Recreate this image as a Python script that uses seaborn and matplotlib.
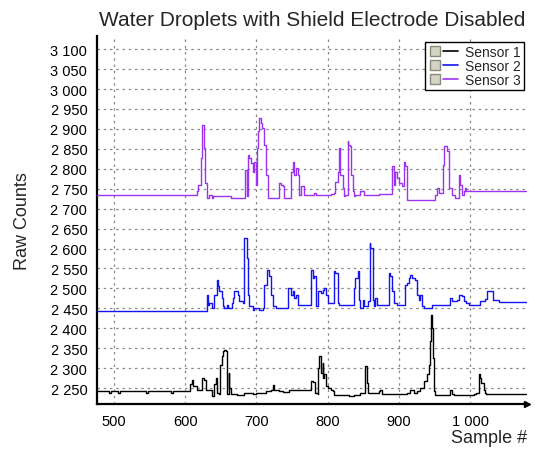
import numpy as np
import pandas as pd
import matplotlib
matplotlib.use("Agg")
import matplotlib.pyplot as plt
from matplotlib.lines import Line2D
from matplotlib.legend_handler import HandlerTuple
from matplotlib.ticker import MultipleLocator, FuncFormatter
import seaborn as sns

# ---------------- data (breakpoints) ----------------
s1_x = [476, 492, 493, 496, 504, 505, 508, 544, 545, 548, 579, 580, 583, 602, 607, 609, 611, 616, 623, 624,
        626, 629, 637, 640, 641, 643, 645, 648, 649, 651, 653, 655, 657, 658, 659, 661, 662, 664, 672, 683,
        695, 700, 714, 721, 723, 725, 732, 737, 746, 756, 774, 777, 780, 782, 786, 787, 788, 790, 791, 793,
        794, 795, 797, 800, 804, 807, 809, 823, 830, 837, 846, 851, 853, 855, 856, 860, 872, 874, 877, 898,
        912, 916, 921, 926, 930, 935, 940, 942, 944, 945, 947, 948, 949, 951, 970, 972, 974, 977, 995, 1005,
        1009, 1012, 1014, 1016, 1019, 1021, 1023, 1078]
s1_y = [2242, 2242, 2238, 2242, 2242, 2238, 2242, 2242, 2238, 2242, 2242, 2238, 2242, 2242, 2259, 2271, 2255, 2246, 2246, 2275,
        2271, 2246, 2230, 2230, 2259, 2275, 2238, 2234, 2309, 2330, 2342, 2346, 2342, 2284, 2234, 2288, 2250, 2234, 2232, 2238,
        2235, 2238, 2242, 2244, 2257, 2246, 2242, 2240, 2244, 2246, 2246, 2267, 2265, 2238, 2234, 2300, 2330, 2326, 2288, 2313,
        2275, 2284, 2255, 2250, 2246, 2242, 2232, 2232, 2230, 2232, 2238, 2238, 2305, 2263, 2238, 2238, 2242, 2246, 2234, 2234,
        2238, 2244, 2238, 2242, 2250, 2267, 2284, 2309, 2367, 2434, 2401, 2326, 2242, 2232, 2232, 2246, 2235, 2232, 2232, 2235,
        2238, 2284, 2275, 2263, 2246, 2238, 2234, 2234]

s2_x = [476, 627, 630, 632, 634, 637, 641, 644, 646, 648, 651, 653, 655, 658, 660, 665, 667, 669, 674, 676,
        681, 683, 686, 688, 690, 695, 697, 704, 709, 711, 715, 718, 721, 723, 728, 742, 744, 749, 751, 753,
        756, 758, 760, 774, 777, 779, 781, 784, 786, 790, 793, 795, 797, 800, 807, 809, 811, 814, 816, 832,
        837, 839, 842, 844, 846, 849, 851, 856, 859, 860, 863, 865, 867, 870, 881, 886, 888, 891, 893, 898,
        905, 908, 911, 914, 916, 919, 923, 926, 928, 930, 933, 935, 940, 947, 954, 970, 972, 974, 981, 985,
        988, 992, 995, 998, 1012, 1014, 1021, 1024, 1030, 1032, 1037, 1040, 1078]
s2_y = [2443, 2443, 2484, 2459, 2463, 2451, 2484, 2522, 2505, 2493, 2476, 2455, 2451, 2458, 2451, 2463, 2476, 2493, 2484, 2468,
        2463, 2626, 2576, 2484, 2455, 2447, 2451, 2447, 2451, 2509, 2547, 2530, 2484, 2455, 2451, 2451, 2501, 2484, 2493, 2476,
        2484, 2459, 2458, 2458, 2547, 2526, 2530, 2455, 2493, 2488, 2497, 2501, 2484, 2463, 2463, 2543, 2539, 2463, 2459, 2459,
        2501, 2526, 2543, 2472, 2451, 2472, 2455, 2468, 2614, 2601, 2472, 2455, 2476, 2459, 2459, 2539, 2530, 2493, 2463, 2459,
        2459, 2509, 2514, 2526, 2534, 2526, 2522, 2484, 2472, 2484, 2455, 2451, 2451, 2458, 2459, 2459, 2476, 2469, 2472, 2484,
        2480, 2468, 2463, 2458, 2458, 2469, 2473, 2493, 2493, 2472, 2472, 2466, 2466]

s3_x = [476, 614, 616, 618, 622, 624, 626, 628, 630, 634, 637, 639, 662, 664, 683, 683.5, 685, 686, 688, 690,
        693, 695, 697, 700, 701, 702, 704, 707, 708, 710, 713, 716, 731, 732, 735, 737, 739, 748, 749, 751,
        753, 756, 758, 760, 763, 767, 774, 781, 784, 800, 804, 809, 811, 814, 816, 818, 821, 823, 825, 828,
        829, 831, 833, 835, 837, 839, 846, 851, 870, 872, 886, 890, 893, 895, 898, 900, 905, 907, 909, 911,
        912, 949, 951, 954, 956, 958, 962, 964, 968, 970, 974, 979, 984, 986, 988, 991, 993, 995, 1078]
s3_y = [2733, 2733, 2743, 2760, 2827, 2910, 2852, 2764, 2727, 2735, 2727, 2731, 2731, 2727, 2727, 2798, 2798, 2731, 2835, 2827,
        2814, 2793, 2818, 2760, 2852, 2895, 2927, 2915, 2902, 2860, 2785, 2727, 2727, 2764, 2760, 2756, 2727, 2727, 2793, 2818,
        2785, 2802, 2785, 2735, 2756, 2735, 2733, 2739, 2733, 2733, 2737, 2739, 2768, 2793, 2852, 2785, 2752, 2731, 2735, 2869,
        2860, 2856, 2785, 2743, 2731, 2735, 2743, 2733, 2733, 2737, 2737, 2806, 2760, 2793, 2777, 2764, 2756, 2818, 2806, 2768,
        2722, 2722, 2735, 2752, 2739, 2739, 2810, 2856, 2844, 2752, 2735, 2727, 2785, 2760, 2735, 2743, 2752, 2745, 2745]

sensors = ["Sensor 1", "Sensor 2", "Sensor 3"]
colors = ["#000000", "#1414f0", "#9a34f2"]

df = pd.concat([
    pd.DataFrame({"Sample #": s1_x, "Raw Counts": s1_y, "sensor": sensors[0]}),
    pd.DataFrame({"Sample #": s2_x, "Raw Counts": s2_y, "sensor": sensors[1]}),
    pd.DataFrame({"Sample #": s3_x, "Raw Counts": s3_y, "sensor": sensors[2]}),
], ignore_index=True)

# ---------------- style ----------------
sns.set_style("white")
plt.rcParams["font.family"] = ["Liberation Sans", "DejaVu Sans"]

fig = plt.figure(figsize=(5.43, 4.52), dpi=100)
ax = fig.add_axes([97 / 543, 1 - 405 / 452, (527 - 97) / 543, (405 - 37) / 452])

sns.lineplot(data=df, x="Sample #", y="Raw Counts", hue="sensor", palette=colors,
             estimator=None, sort=False, linewidth=1.0, legend=False, ax=ax, zorder=3,
             drawstyle="steps-post")

ax.set_xlim(476, 1080)
ax.set_ylim(2210, 3133)

ax.xaxis.set_major_locator(MultipleLocator(100))
ax.xaxis.set_minor_locator(MultipleLocator(25))
ax.yaxis.set_major_locator(MultipleLocator(50))
ax.yaxis.set_minor_locator(MultipleLocator(10))
fmt = FuncFormatter(lambda v, p: f"{int(round(v)):,}".replace(",", " "))
ax.xaxis.set_major_formatter(fmt)
ax.yaxis.set_major_formatter(fmt)
ax.set_yticks([v for v in range(2250, 3101, 50)])

ax.grid(True, which="major", color="#8a8a8a", linestyle=(0, (2, 3)), linewidth=0.9)
ax.set_axisbelow(True)

for side in ["top", "right"]:
    ax.spines[side].set_visible(False)
for side in ["left", "bottom"]:
    ax.spines[side].set_linewidth(1.6)
    ax.spines[side].set_color("black")

ax.tick_params(axis="both", which="major", direction="out", length=5, width=1, colors="black",
               labelsize=10.5, pad=2)
ax.tick_params(axis="both", which="minor", direction="out", length=2, width=0.8, colors="black")

ax.plot(1.0, 0, marker=">", color="black", markersize=5, transform=ax.transAxes, clip_on=False)

ax.set_title("Water Droplets with Shield Electrode Disabled", fontsize=15, pad=8)
ax.set_xlabel("Sample #", fontsize=13, loc="right", labelpad=1)
ax.set_ylabel("Raw Counts", fontsize=13, labelpad=14)

box = dict(marker="s", markersize=7, markerfacecolor="#d4d4c4", markeredgecolor="#8a8a7a",
           linestyle="none")
handles = [(Line2D([], [], **box), Line2D([], [], color=c, lw=1.2)) for c in colors]
leg = ax.legend(handles, sensors, handler_map={tuple: HandlerTuple(ndivide=None, pad=0.0)},
                loc="upper right", bbox_to_anchor=(0.999, 0.99), fontsize=10, frameon=True,
                fancybox=False, edgecolor="black", framealpha=1, handlelength=2.2,
                handletextpad=0.5, labelspacing=0.0, borderpad=0.2, borderaxespad=0.2)
leg.get_frame().set_linewidth(1.0)

fig.savefig("out.png", dpi=100)
